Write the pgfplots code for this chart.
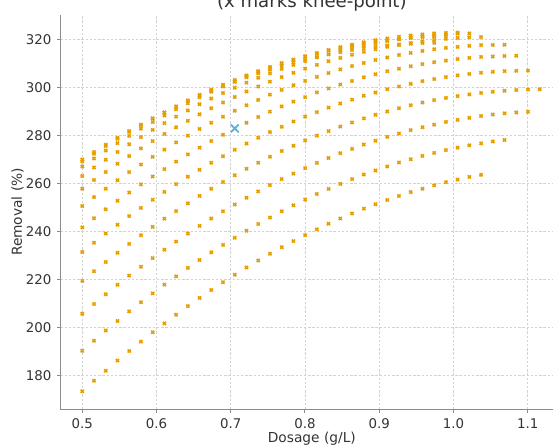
\documentclass[border=0pt]{standalone}
\usepackage{pgfplots}
\usepackage{pgfplotstable}
\pgfplotsset{compat=1.18}
\usepackage{fontspec}
\setmainfont{DejaVu Sans}

\definecolor{dotorange}{HTML}{E69F00}
\definecolor{kneeblue}{HTML}{56B4E9}
\definecolor{spinegray}{HTML}{8C8C8C}
\definecolor{txtgray}{HTML}{333333}
\definecolor{gridgray}{HTML}{D2D2D2}

% Removal (%) against dosage (g/L); one column per response curve s0..s11
\pgfplotstableread{
x      s0    s1    s2    s3    s4    s5    s6    s7    s8    s9    s10   s11
0.5000 173.5 190.4 205.8 219.5 231.5 241.8 250.7 257.9 263.2 267.2 269.3 270.1
0.5158 177.9 194.6 209.9 223.5 235.4 245.6 254.4 261.5 266.7 270.5 272.5 273.2
0.5316 182.1 198.8 213.9 227.4 239.2 249.3 257.9 264.9 270.0 273.8 275.7 276.2
0.5474 186.3 202.8 217.9 231.2 242.9 252.9 261.4 268.3 273.2 276.9 278.7 279.1
0.5632 190.3 206.8 221.7 234.9 246.5 256.3 264.8 271.5 276.4 279.9 281.6 281.9
0.5790 194.2 210.6 225.4 238.5 249.9 259.7 268.0 274.7 279.4 282.9 284.4 284.6
0.5948 198.1 214.3 229.0 242.0 253.3 263.0 271.2 277.7 282.4 285.7 287.1 287.2
0.6106 201.8 217.9 232.5 245.4 256.6 266.1 274.2 280.7 285.2 288.4 289.7 289.7
0.6264 205.4 221.4 235.9 248.6 259.8 269.2 277.2 283.5 287.9 291.0 292.2 292.1
0.6422 209.0 224.9 239.2 251.8 262.9 272.2 280.0 286.2 290.5 293.5 294.7 294.4
0.6580 212.4 228.2 242.4 254.9 265.8 275.0 282.8 288.9 293.1 296.0 297.0 296.6
0.6738 215.7 231.4 245.5 257.9 268.7 277.8 285.4 291.4 295.5 298.3 299.2 298.7
0.6896 218.9 234.5 248.5 260.7 271.4 280.4 287.9 293.8 297.8 300.5 301.2 300.7
0.7054 222.1 237.5 251.3 263.5 274.1 283.0 290.4 296.1 300.0 302.6 303.2 302.5
0.7212 225.1 240.4 254.1 266.2 276.7 285.4 292.7 298.4 302.1 304.6 305.1 304.3
0.7370 228.0 243.2 256.8 268.7 279.1 287.8 294.9 300.5 304.1 306.5 306.9 306.0
0.7528 230.8 245.9 259.4 271.2 281.5 290.0 297.1 302.5 306.0 308.3 308.6 307.6
0.7686 233.5 248.5 261.9 273.6 283.7 292.2 299.1 304.4 307.8 310.0 310.2 309.0
0.7844 236.1 251.0 264.2 275.8 285.9 294.2 301.0 306.2 309.5 311.5 311.7 310.4
0.8002 238.6 253.4 266.5 278.0 287.9 296.1 302.8 307.9 311.1 313.0 313.0 311.6
0.8160 241.0 255.7 268.7 280.0 289.8 298.0 304.5 309.5 312.6 314.4 314.3 312.8
0.8318 243.3 257.8 270.7 281.9 291.7 299.7 306.1 311.0 314.0 315.7 315.5 313.9
0.8476 245.5 259.9 272.7 283.8 293.4 301.3 307.6 312.4 315.3 316.9 316.5 314.8
0.8634 247.6 261.9 274.5 285.5 295.0 302.8 309.0 313.7 316.5 317.9 317.5 315.7
0.8792 249.6 263.8 276.3 287.2 296.6 304.3 310.3 314.9 317.5 318.9 318.4 316.4
0.8950 251.4 265.5 277.9 288.7 298.0 305.6 311.5 316.0 318.5 319.8 319.1 317.0
0.9108 253.2 267.2 279.5 290.1 299.3 306.8 312.6 317.0 319.4 320.5 319.8 317.6
0.9266 254.9 268.8 280.9 291.4 300.5 307.9 313.6 317.8 320.2 321.2 320.3 318.0
0.9424 256.5 270.2 282.3 292.7 301.6 308.9 314.5 318.6 320.8 321.7 320.8 318.3
0.9582 257.9 271.6 283.5 293.8 302.7 309.8 315.3 319.3 321.4 322.2 321.1 318.6
0.9740 259.3 272.8 284.6 294.8 303.6 310.6 316.0 319.9 321.9 322.6 321.4 318.7
0.9898 260.6 274.0 285.7 295.7 304.4 311.3 316.6 320.3 322.2 322.8 321.5 nan
1.0056 261.7 275.0 286.6 296.5 305.1 311.9 317.0 320.7 322.5 322.9 nan   nan
1.0214 262.8 276.0 287.4 297.2 305.7 312.4 317.4 321.0 322.6 nan   nan   nan
1.0372 263.7 276.8 288.2 297.8 306.2 312.8 317.7 321.1 nan   nan   nan   nan
1.0530 nan   277.6 288.8 298.3 306.6 313.0 317.8 nan   nan   nan   nan   nan
1.0688 nan   278.2 289.3 298.7 306.9 313.2 317.9 nan   nan   nan   nan   nan
1.0846 nan   nan   289.7 299.0 307.0 313.3 nan   nan   nan   nan   nan   nan
1.1004 nan   nan   290.0 299.2 307.1 nan   nan   nan   nan   nan   nan   nan
1.1162 nan   nan   nan   299.3 nan   nan   nan   nan   nan   nan   nan   nan
}\removaldata

\begin{document}
\begin{tikzpicture}
\begin{axis}[
  name=ax, at={(0,0)}, anchor=south west,
  scale only axis, width=503.1bp, height=394.6bp,
  xmin=0.4704, xmax=1.1481, ymin=166.0, ymax=330.4,
  axis x line*=bottom, axis y line*=left,
  axis line style={-, spinegray, line width=1.3bp},
  xtick={0.5,0.6,0.7,0.8,0.9,1.0,1.1},
  xticklabels={0.5,0.6,0.7,0.8,0.9,1.0,1.1},
  ytick={180,200,220,240,260,280,300,320},
  tick align=outside, major tick length=3.5bp,
  tick style={spinegray, line width=1bp},
  grid=major,
  major grid style={gridgray, line width=0.6bp, dash pattern=on 2.4bp off 1.8bp},
  /pgf/number format/assume math mode=true,
  ticklabel style={font=\fontsize{13.4}{15}\selectfont, text=txtgray, inner sep=0pt},
  xticklabel style={anchor=base, yshift=-15.7bp},
  yticklabel style={anchor=east, xshift=-5.3bp},
  xlabel={Dosage (g/L)}, ylabel={Removal (\%)},
  label style={font=\fontsize{13.8}{16}\selectfont, text=txtgray},
  xlabel style={at={([yshift=-32.7bp]axis description cs:0.5,0)}, anchor=base},
  ylabel style={at={([xshift=-42.8bp]axis description cs:0,0.5)}, anchor=center},
  title={(x marks knee-point)},
  title style={font=\fontsize{18.2}{20}\selectfont, text=txtgray,
    at={([yshift=1.5bp]axis description cs:0.5,1)}, anchor=base},
]
\pgfplotsinvokeforeach{0,...,11}{
  \addplot[only marks, mark=x, mark size=2.2bp, draw=dotorange,
    mark options={line width=1.6bp}] table[x=x, y=s#1]{\removaldata};
}
% knee point of the s5 curve
\addplot[only marks, mark=x, mark size=5.5bp, draw=kneeblue,
  mark options={line width=1.8bp}] coordinates {(0.7054,283.0)};
\end{axis}
\pgfresetboundingbox
\useasboundingbox (-60.3bp,-36.7bp) rectangle (492.7bp,409.3bp);
\end{tikzpicture}
\end{document}
